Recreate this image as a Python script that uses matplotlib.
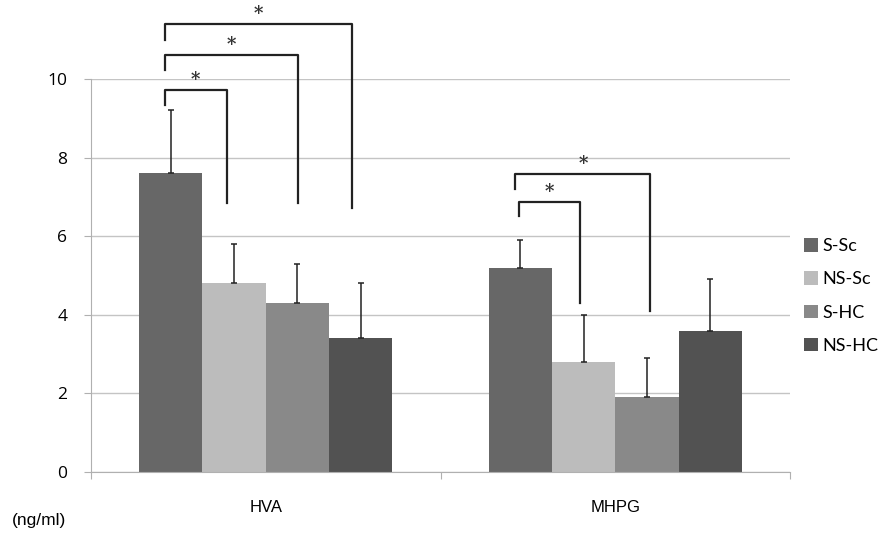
import numpy as np
import matplotlib
matplotlib.use("Agg")
from matplotlib import pyplot as plt

# data
categories = ["HVA", "MHPG"]
groups = ["S-Sc", "NS-Sc", "S-HC", "NS-HC"]
means = {
    "S-Sc": [7.6, 5.2],
    "NS-Sc": [4.8, 2.8],
    "S-HC": [4.3, 1.9],
    "NS-HC": [3.4, 3.6],
}
errors = {
    "S-Sc": [1.6, 0.7],
    "NS-Sc": [1.0, 1.2],
    "S-HC": [1.0, 1.0],
    "NS-HC": [1.4, 1.3],
}
colors = {"S-Sc": "#676767", "NS-Sc": "#bcbcbc", "S-HC": "#898989", "NS-HC": "#525252"}

# significance brackets: x left, x right, top, left drop, right drop
bracket_xl = [-0.289, -0.289, -0.289, 0.725, 0.714]
bracket_xr = [-0.112, 0.092, 0.246, 0.900, 1.100]
bracket_top = [9.72, 10.61, 11.40, 6.87, 7.58]
bracket_ldrop = [9.34, 10.23, 10.99, 6.51, 7.20]
bracket_rdrop = [6.84, 6.84, 6.72, 4.30, 4.10]

fig = plt.figure(figsize=(8.85, 5.4), dpi=100)
ax = fig.add_axes([0.1028, 0.1259, 0.79, 0.7278])

x = np.arange(len(categories))
w = 0.181
offsets = (np.arange(len(groups)) - 1.5) * w
for i, g in enumerate(groups):
    ax.bar(x + offsets[i], means[g], w, color=colors[g], edgecolor="none", label=g, zorder=2)
    ax.errorbar(x + offsets[i], means[g], yerr=[np.zeros(len(x)), errors[g]], fmt="none",
                ecolor="#222222", elinewidth=1.1, capsize=2.5, capthick=1.1, zorder=3)

for xl, xr, top, ld, rd in zip(bracket_xl, bracket_xr, bracket_top, bracket_ldrop, bracket_rdrop):
    ax.plot([xl, xl, xr, xr], [ld, top, top, rd], color="#222222", lw=1.6,
            clip_on=False, zorder=4, solid_joinstyle="round")
    ax.text((xl + xr) / 2, top + 0.02, "*", ha="center", va="bottom", fontsize=13,
            family="DejaVu Serif", weight="bold", color="#333333", clip_on=False)

ax.set_xlim(-0.5, 1.5)
ax.set_ylim(0, 10)
ax.set_yticks(range(0, 11, 2))
ax.set_yticklabels([str(v) for v in range(0, 11, 2)], fontsize=12.5, family="Open Sans")
ax.yaxis.grid(True, color="#c4c4c4", lw=1, zorder=0)
ax.set_axisbelow(True)

ax.set_xticks([-0.5, 0.5, 1.5])
ax.set_xticklabels([])
ax.tick_params(axis="x", direction="out", length=5, color="#b0b0b0")
ax.tick_params(axis="y", direction="out", length=5, color="#b0b0b0", pad=12)
for i, cat in enumerate(categories):
    ax.text(x[i], -0.9, cat, ha="center", va="center", fontsize=12, family="Liberation Sans")

for s in ["top", "right"]:
    ax.spines[s].set_visible(False)
for s in ["left", "bottom"]:
    ax.spines[s].set_color("#b0b0b0")

fig.text(0.013, 0.022, "(ng/ml)", fontsize=12.5, family="Liberation Sans", va="bottom")

leg = ax.legend(loc="center left", bbox_to_anchor=(1.005, 0.448), frameon=False,
                prop={"family": "Lato", "size": 13}, handlelength=0.75,
                handleheight=0.75, handletextpad=0.25, labelspacing=0.95,
                borderaxespad=0.2)

fig.savefig("out.png", dpi=100)
